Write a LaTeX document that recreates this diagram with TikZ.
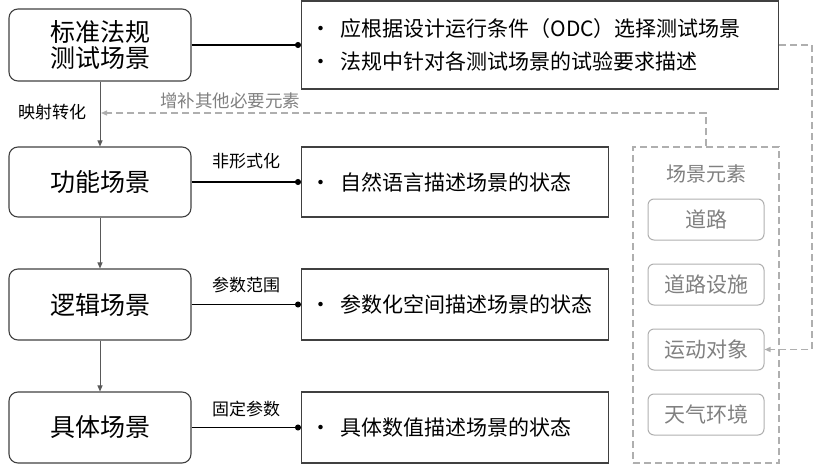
\documentclass[tikz,border=0pt]{standalone}
\usepackage{fontspec}
\setmainfont{Noto Sans CJK SC}
\usetikzlibrary{arrows.meta}
\definecolor{dk}{HTML}{404040}
\definecolor{ln}{HTML}{595959}
\definecolor{lg}{HTML}{AFAFAF}
\definecolor{tg}{HTML}{808080}
\begin{document}
\begin{tikzpicture}[x=1pt,y=-1pt,
  scen/.style={draw=dk,line width=1.1pt,rounded corners=9pt,minimum width=182pt,font=\fontsize{25}{29}\selectfont,align=center,inner sep=0pt},
  desc/.style={draw=dk,line width=1.1pt,align=left,inner xsep=9pt,inner ysep=0pt,font=\fontsize{21}{33}\selectfont,anchor=west},
  lab/.style={font=\fontsize{17}{20}\selectfont,inner sep=0pt},
  link/.style={draw=black,line width=1.1pt,-{Circle[length=6pt]}},
  down/.style={draw=ln,line width=1pt,-{Triangle[length=6pt,width=5pt]}},
  dsh/.style={draw=lg,line width=1.3pt,dash pattern=on 7pt off 4pt,-{Triangle[length=6pt,width=5pt]}},
  elem/.style={draw=lg,line width=1pt,rounded corners=6pt,minimum width=116pt,minimum height=41pt,text=tg,font=\fontsize{21}{24}\selectfont,inner sep=0pt},
]
\useasboundingbox (0,0) rectangle (814,466);
\newcommand{\bul}[1]{\makebox[30pt][l]{•}#1}
% left scenario boxes
\node[scen,minimum height=72pt] (L1) at (100,45) {标准法规\\[-3pt]测试场景};
\node[scen,minimum height=70pt] (L2) at (100,182) {功能场景};
\node[scen,minimum height=71pt] (L3) at (100,304.5) {逻辑场景};
\node[scen,minimum height=71pt] (L4) at (100,427.5) {具体场景};
% right description boxes
\node[desc,text width=459pt,minimum height=88pt] (R1) at (301,45) {\bul{应根据设计运行条件（ODC）选择测试场景}\\\bul{法规中针对各测试场景的试验要求描述}};
\node[desc,text width=289pt,minimum height=70pt] (R2) at (301,182) {\bul{自然语言描述场景的状态}};
\node[desc,text width=289pt,minimum height=71pt] (R3) at (301,304.5) {\bul{参数化空间描述场景的状态}};
\node[desc,text width=289pt,minimum height=71pt] (R4) at (301,427.5) {\bul{具体数值描述场景的状态}};
% connectors
\draw[link] (L1.east) -- (R1.west);
\draw[link] (L2.east) -- (R2.west);
\draw[link] (L3.east) -- (R3.west);
\draw[link] (L4.east) -- (R4.west);
\node[lab] (t2) at (246,161) {非形式化};
\node[lab] (t3) at (246,285) {参数范围};
\node[lab] (t4) at (246,409) {固定参数};
\draw[down] (L1.south) -- (L2.north);
\draw[down] (L2.south) -- (L3.north);
\draw[down] (L3.south) -- (L4.north);
\node[lab] (t1) at (52,112) {映射转化};
% scene elements
\node[draw=lg,line width=1.3pt,dash pattern=on 7pt off 4pt,minimum width=146pt,minimum height=316pt,inner sep=0pt] (SB) at (706,305) {};
\node[text=tg,font=\fontsize{20}{22}\selectfont,inner sep=0pt] (ST) at (706,174) {场景元素};
\node[elem] (E1) at (706,219.5) {道路};
\node[elem] (E2) at (706,284.5) {道路设施};
\node[elem] (E3) at (706,349.5) {运动对象};
\node[elem] (E4) at (706,414.5) {天气环境};
% dashed connectors
\coordinate (m) at (101,113);
\coordinate (c1) at (812,45);
\draw[dsh] (SB.north) |- (m);
\node[lab,text=tg,font=\fontsize{17.5}{20}\selectfont] (t5) at (230,101) {增补其他必要元素};
\draw[dsh] (R1.east) -- (c1) |- (E3.east);
\end{tikzpicture}
\end{document}
